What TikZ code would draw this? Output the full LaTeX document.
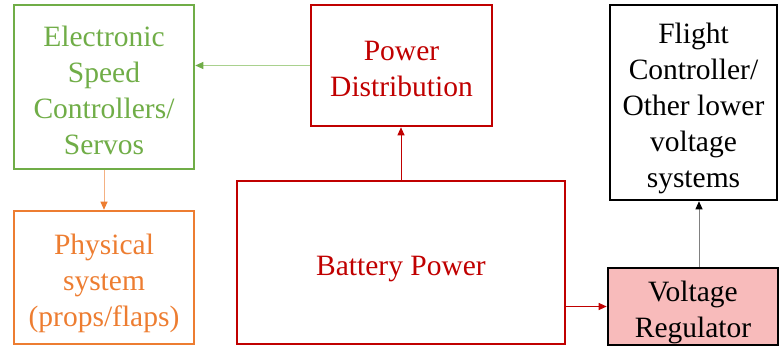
\documentclass[tikz,border=0pt]{standalone}
\usepackage{fontspec}
\setmainfont{LiberationSerif}[Extension=.ttf, UprightFont=*-Regular, BoldFont=*-Bold]
\usetikzlibrary{arrows.meta}
\definecolor{escgreen}{HTML}{70AD47}
\definecolor{lightgreen}{HTML}{A9D18E}
\definecolor{physorange}{HTML}{ED7D31}
\definecolor{lightorange}{HTML}{F4B183}
\definecolor{pwrred}{HTML}{C00000}
\definecolor{vrpink}{HTML}{F8BBBB}
\newcommand\boxtxt[1]{\raisebox{-12.5pt}[0pt][0pt]{\begin{tabular}{@{}c@{}}#1\end{tabular}}}
\tikzset{
  box/.style={draw, line width=2.6pt, inner sep=0pt,
    font=\fontsize{29.5}{36}\selectfont},
  conn/.style={line width=1pt},
}
\begin{document}
\begin{tikzpicture}[x=1pt,y=-1pt]
\useasboundingbox (0,0) rectangle (780,347);
\node[box, draw=escgreen, text=escgreen, minimum width=180, minimum height=164] (esc) at (104,87) {\boxtxt{Electronic\\Speed\\Controllers/\\Servos}};
\node[box, draw=physorange, text=physorange, minimum width=180, minimum height=133] (phys) at (104,277.5) {\boxtxt{Physical\\system\\(props/flaps)}};
\node[box, draw=pwrred, text=pwrred, minimum width=181, minimum height=121] (pd) at (401.5,65.5) {\boxtxt{Power\\Distribution}};
\node[box, draw=pwrred, text=pwrred, minimum width=328, minimum height=163] (bat) at (401,262.5) {\boxtxt{Battery Power}};
\node[box, draw=black, text=black, minimum width=167, minimum height=195] (fc) at (693.5,102.5) {\boxtxt{Flight\\Controller/\\Other lower\\voltage\\systems}};
\node[box, draw=black, fill=vrpink, text=black, minimum width=170, minimum height=77] (vr) at (693,306.5) {\boxtxt{Voltage\\Regulator}};
\draw[conn, draw=lightgreen, -{Triangle[length=8pt,width=7pt,color=escgreen]}] (pd.west) -- (pd.west -| esc.east);
\draw[conn, draw=lightorange, -{Triangle[length=8pt,width=7pt,color=physorange]}] (esc.south) -- (phys.north);
\draw[conn, draw=pwrred, -{Triangle[length=8pt,width=7pt]}] (bat.north) -- (bat.north |- pd.south);
\draw[conn, draw=pwrred, -{Triangle[length=8pt,width=7pt]}] (vr.west -| bat.east) -- (vr.west);
\draw[conn, draw=gray, -{Triangle[length=8pt,width=7pt,color=black]}] ([xshift=6]vr.north) -- ([xshift=6]vr.north |- fc.south);
\end{tikzpicture}
\end{document}
